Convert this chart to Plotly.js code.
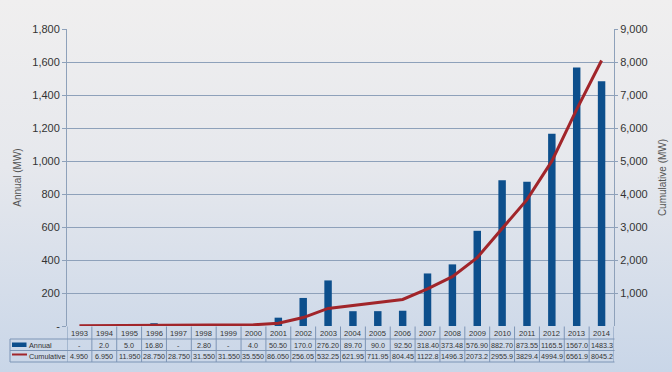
<!DOCTYPE html>
<html>
<head>
<meta charset="utf-8">
<script src="https://cdn.plot.ly/plotly-3.0.1.min.js"></script>
<style>
html,body{margin:0;padding:0;}
body{width:672px;height:372px;overflow:hidden;background:linear-gradient(180deg,#f0efef 0%,#e6e8ed 45%,#c9d6e8 100%);}
#chart{width:672px;height:372px;}
</style>
</head>
<body>
<div id="chart"></div>
<script>
const years = [1993,1994,1995,1996,1997,1998,1999,2000,2001,2002,2003,2004,2005,2006,2007,2008,2009,2010,2011,2012,2013,2014];
const annual = [null,2.0,5.0,16.80,null,2.80,null,4.0,50.50,170.0,276.20,89.70,90.0,92.50,318.40,373.48,576.90,882.70,873.55,1165.5,1567.0,1483.3];
const cumulative = [4.95,6.95,11.95,28.75,28.75,31.55,31.55,35.55,86.05,256.05,532.25,621.95,711.95,804.45,1122.8,1496.3,2073.2,2955.9,3829.4,4994.9,6561.9,8045.2];
const annualLabels = ["-","2.0","5.0","16.80","-","2.80","-","4.0","50.50","170.0","276.20","89.70","90.0","92.50","318.40","373.48","576.90","882.70","873.55","1165.5","1567.0","1483.3"];
const cumulativeLabels = ["4.950","6.950","11.950","28.750","28.750","31.550","31.550","35.550","86.050","256.05","532.25","621.95","711.95","804.45","1122.8","1496.3","2073.2","2955.9","3829.4","4994.9","6561.9","8045.2"];
const leftTicks = [0,200,400,600,800,1000,1200,1400,1600,1800];
const leftTickText = ["-","200","400","600","800","1,000","1,200","1,400","1,600","1,800"];
const rightTicks = [1000,2000,3000,4000,5000,6000,7000,8000,9000];
const rightTickText = ["1,000","2,000","3,000","4,000","5,000","6,000","7,000","8,000","9,000"];
const seriesNames = ["Annual","Cumulative"];

const barColor = "#0d4f8c";
const lineColor = "#a1252a";
const gridColor = "#8ea1ba";
const tableColor = "#7d95b6";
const txt = "#333333";

const W = 672, H = 372;
const M = {l:67, r:58, t:29, b:46};
const plotH = H - M.t - M.b;
const plotW = W - M.l - M.r;
const py = p => (H - M.b - p) / plotH;   // pixel y -> paper y
const px = p => (p - M.l) / plotW;       // pixel x -> paper x

const traces = [
  {type:"bar", x:years, y:annual, name:seriesNames[0], marker:{color:barColor}, width:0.3, yaxis:"y", hoverinfo:"x+y"},
  {type:"scatter", mode:"lines", x:years, y:cumulative, name:seriesNames[1], line:{color:lineColor, width:3}, yaxis:"y2", cliponaxis:false}
];

const shapes = [];
const annotations = [];
const rowTop = 326.5, rowH = [339, 350.5, 362];
const tableLeft = 10, tableRight = 614.5;
rowH.forEach(yy => shapes.push({type:"line", xref:"paper", yref:"paper", x0:px(tableLeft), x1:px(tableRight), y0:py(yy), y1:py(yy), line:{color:tableColor, width:1}}));
shapes.push({type:"line", xref:"paper", yref:"paper", x0:px(tableLeft), x1:px(tableLeft), y0:py(rowH[0]), y1:py(rowH[2]), line:{color:tableColor, width:1}});
years.forEach((yr,i) => {
  shapes.push({type:"line", xref:"x", yref:"paper", x0:yr-0.5, x1:yr-0.5, y0:py(rowTop), y1:py(rowH[2]), line:{color:tableColor, width:1}});
});
shapes.push({type:"line", xref:"x", yref:"paper", x0:years[years.length-1]+0.5, x1:years[years.length-1]+0.5, y0:py(rowTop), y1:py(rowH[2]), line:{color:tableColor, width:1}});
shapes.push({type:"rect", xref:"paper", yref:"paper", x0:px(12), x1:px(26.5), y0:py(347), y1:py(342.5), fillcolor:barColor, line:{width:0}});
shapes.push({type:"line", xref:"paper", yref:"paper", x0:px(12), x1:px(27), y0:py(354.5), y1:py(354.5), line:{color:lineColor, width:2}});

const tf = {family:"Liberation Sans, Arial, sans-serif", size:7.2, color:txt};
const hf = {family:"Liberation Sans, Arial, sans-serif", size:7.6, color:txt};
years.forEach((yr,i) => {
  annotations.push({xref:"x", yref:"paper", x:yr, y:py(333), text:String(yr), showarrow:false, font:hf, xanchor:"center", yanchor:"middle"});
  annotations.push({xref:"x", yref:"paper", x:yr, y:py(345), text:annualLabels[i], showarrow:false, font:tf, xanchor:"center", yanchor:"middle"});
  annotations.push({xref:"x", yref:"paper", x:yr, y:py(356.5), text:cumulativeLabels[i], showarrow:false, font:tf, xanchor:"center", yanchor:"middle"});
});
const lf = {family:"Liberation Sans, Arial, sans-serif", size:7.3, color:txt};
annotations.push({xref:"paper", yref:"paper", x:px(27), y:py(345), text:seriesNames[0], showarrow:false, font:lf, xanchor:"left", yanchor:"middle"});
annotations.push({xref:"paper", yref:"paper", x:px(27), y:py(356.5), text:seriesNames[1], showarrow:false, font:lf, xanchor:"left", yanchor:"middle"});

const tickFont = {family:"Liberation Sans, Arial, sans-serif", size:11, color:txt};
const layout = {
  width:W, height:H,
  margin:M,
  paper_bgcolor:"rgba(0,0,0,0)",
  plot_bgcolor:"rgba(0,0,0,0)",
  showlegend:false,
  bargap:0.7,
  xaxis:{type:"linear", range:[1992.5,2014.5], showticklabels:false, ticks:"", showgrid:false, zeroline:false, showline:false, fixedrange:true},
  yaxis:{range:[0,1800], tickvals:leftTicks, ticktext:leftTickText, tickfont:tickFont, ticks:"outside", ticklen:4, tickcolor:gridColor,
         showgrid:true, gridcolor:gridColor, gridwidth:1, zeroline:false, showline:true, linecolor:gridColor, linewidth:1,
         title:{text:"Annual (MW)", font:{family:"Liberation Sans, Arial, sans-serif", size:10, color:"#555555"}, standoff:8}},
  yaxis2:{range:[0,9000], overlaying:"y", side:"right", tickvals:rightTicks, ticktext:rightTickText, tickfont:tickFont, ticks:"outside", ticklen:3, tickcolor:gridColor,
          showgrid:false, zeroline:false, showline:true, linecolor:gridColor, linewidth:1,
          title:{text:"Cumulative (MW)", font:{family:"Liberation Sans, Arial, sans-serif", size:10, color:"#555555"}, standoff:12}},
  shapes:shapes,
  annotations:annotations
};
Plotly.newPlot("chart", traces, layout, {displayModeBar:false, staticPlot:true});
</script>
</body>
</html>
